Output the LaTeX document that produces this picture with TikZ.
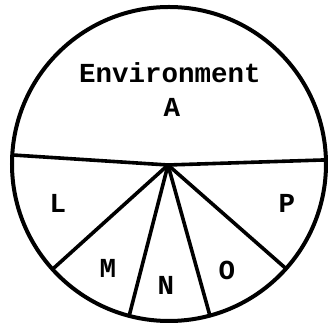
\documentclass[tikz,border=0pt]{standalone}
\usepackage{fontspec}
\newfontfamily\typefont{Liberation Mono}
\usetikzlibrary{positioning,calc}
\tikzset{
  rimline/.style={
    line width=4pt, draw=black
  },
  spokeline/.style={
    line width=3.6pt, draw=black, line cap=round
  },
  partlabel/.style={
    font=\typefont\bfseries\fontsize{27.5}{30}\selectfont, inner sep=0pt
  },
}
\begin{document}
\begin{tikzpicture}[x=1pt,y=1pt]
  \useasboundingbox (-169,-164) rectangle (161,164);

  % Circle
  \coordinate (centre) at (0,0);
  \draw[rimline] (centre) circle (157);

  % Points on the rim
  \coordinate (hub) at (-1,-1);
  \coordinate (rimW) at (176.7:157);
  \coordinate (rimE) at (1.5:157);
  \coordinate (rimL) at (222.1:157);
  \coordinate (rimM) at (255.3:157);
  \coordinate (rimN) at (285.1:157);
  \coordinate (rimO) at (318.2:157);

  % Divider and spokes
  \draw[spokeline] (rimW) -- (hub) -- (rimE);
  \draw[spokeline] (hub) -- (rimL);
  \draw[spokeline] (hub) -- (rimM);
  \draw[spokeline] (hub) -- (rimN);
  \draw[spokeline] (hub) -- (rimO);

  % Labels
  \node[partlabel] (env) at (1,91) {Environment};
  \node[partlabel] (envA) at (3,57) {A};
  \node[partlabel] (labL) at (-111,-39) {L};
  \node[partlabel] (labP) at (118,-39) {P};
  \node[partlabel] (labM) at (-61,-104) {M};
  \node[partlabel] (labN) at (-3,-121) {N};
  \node[partlabel] (labO) at (58,-106) {O};
\end{tikzpicture}
\end{document}
